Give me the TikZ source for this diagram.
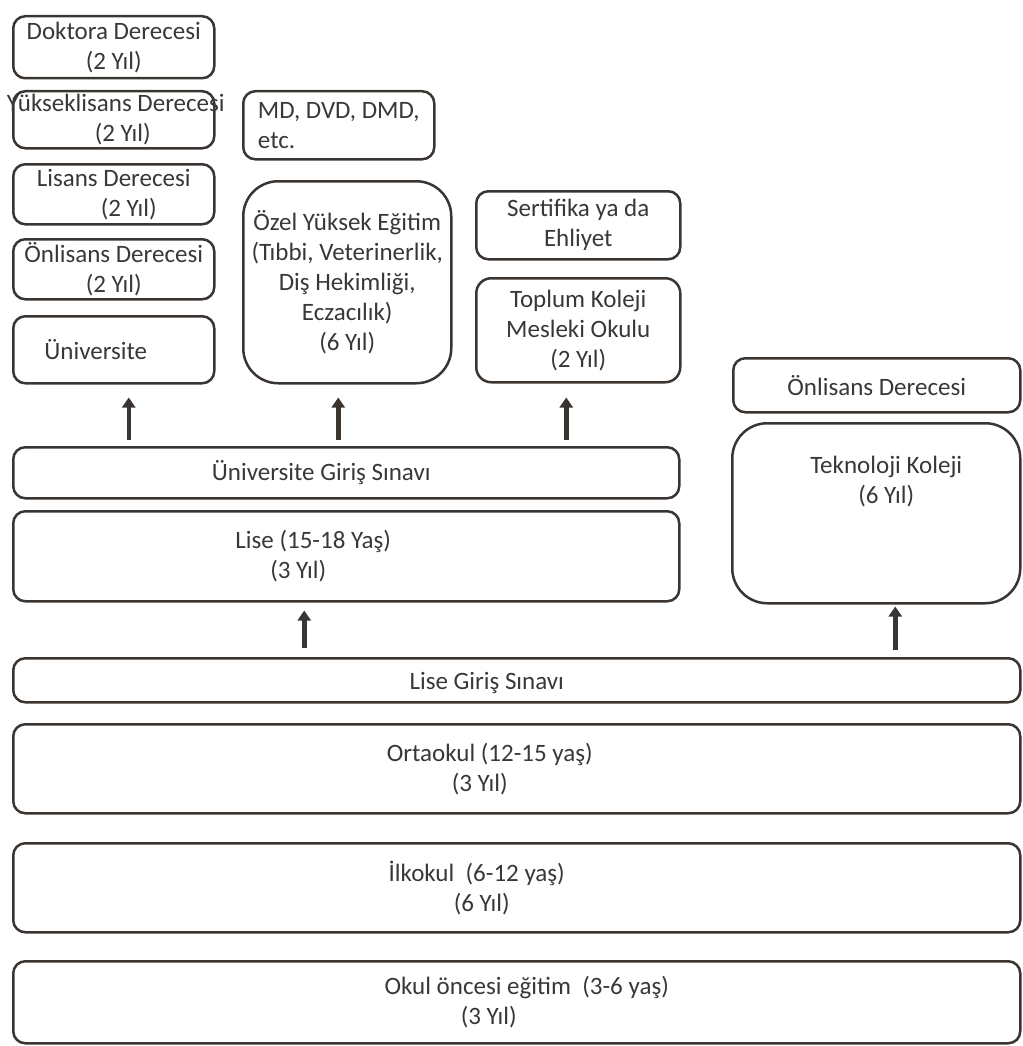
\documentclass[tikz,border=0pt]{standalone}
\usepackage{fontspec}
\setmainfont{Carlito}
\usetikzlibrary{arrows.meta}
\definecolor{edge}{HTML}{3B3532}
\definecolor{ink}{HTML}{383838}

\begin{document}
\begin{tikzpicture}[
  x=1pt, y=-1pt,
  txt/.style = {text=ink, align=center, font=\fontsize{25}{30}\selectfont},
  box/.style = {draw=edge, line width=2.5pt, rounded corners=12pt, anchor=north west, inner sep=0pt, txt},
  uparrow/.style = {line width=4.5pt, draw=edge, -{Triangle[width=13pt,length=10pt]}}
]

% Page frame
\useasboundingbox (0,0) rectangle (1022,1046);

% Left column: university degrees
\node[box, minimum width=201pt, minimum height=62pt] (doktora) at (12,15) {Doktora Derecesi\\(2 Yıl)};
\node[box, minimum width=201pt, minimum height=57pt] (yuksek) at (12,90) {};
\node[txt, xshift=2pt] (yuksek-t) at (yuksek) {Yükseklisans Derecesi\\\hspace*{14pt}(2 Yıl)};
\node[box, minimum width=201pt, minimum height=60pt] (lisans) at (12,163) {Lisans Derecesi\\\hspace*{30pt}(2 Yıl)};
\node[box, minimum width=201pt, minimum height=60pt] (onlisans) at (12,238) {Önlisans Derecesi\\(2 Yıl)};
\node[box, minimum width=201pt, minimum height=67pt] (universite) at (12,315) {};
\node[txt, xshift=-18pt] (universite-t) at (universite) {Üniversite};

% Middle column: professional degrees
\node[box, minimum width=191pt, minimum height=68pt, align=left] (md) at (242,90) {MD, DVD, DMD,\\etc.};
\node[box, rounded corners=35pt, minimum width=208pt, minimum height=202pt] (ozel) at (242,180)
  {Özel Yüksek Eğitim\\(Tıbbi, Veterinerlik,\\Diş Hekimliği,\\Eczacılık)\\(6 Yıl)};

% Vocational column
\node[box, minimum width=204pt, minimum height=68pt] (sertifika) at (475,190) {Sertifika ya da\\Ehliyet};
\node[box, rounded corners=15pt, minimum width=204pt, minimum height=104pt] (toplum) at (475,277)
  {Toplum Koleji\\Mesleki Okulu\\(2 Yıl)};

% Technology college
\node[box, minimum width=287pt, minimum height=54pt] (onlisans2) at (732,357) {Önlisans Derecesi};
\node[box, rounded corners=35pt, minimum width=288pt, minimum height=180pt] (teknoloji) at (731,422) {};
\node[txt, xshift=10pt, yshift=32pt] (teknoloji-t) at (teknoloji) {Teknoloji Koleji\\(6 Yıl)};

% High school and exams
\node[box, minimum width=666pt, minimum height=51pt] (unigiris) at (12,446) {};
\node[txt, xshift=-25pt] (unigiris-t) at (unigiris) {Üniversite Giriş Sınavı};
\node[box, minimum width=666pt, minimum height=90pt] (lise) at (12,510) {};
\node[txt, xshift=-33pt] (lise-t) at (lise) {Lise (15-18 Yaş)\\\hspace*{-30pt}(3 Yıl)};
\node[box, minimum width=1007pt, minimum height=44pt] (lisegiris) at (12,657) {};
\node[txt, xshift=-30pt, yshift=-3pt] (lisegiris-t) at (lisegiris) {Lise Giriş Sınavı};

% Compulsory and pre-school
\node[box, minimum width=1007pt, minimum height=89pt] (ortaokul) at (12,723) {};
\node[txt, xshift=-27pt] (ortaokul-t) at (ortaokul) {Ortaokul (12-15 yaş)\\\hspace*{-20pt}(3 Yıl)};
\node[box, minimum width=1007pt, minimum height=89pt] (ilkokul) at (12,842) {};
\node[txt, xshift=-40pt] (ilkokul-t) at (ilkokul) {İlkokul~~(6-12 yaş)\\\hspace*{10pt}(6 Yıl)};
\node[box, minimum width=1007pt, minimum height=82pt] (okuloncesi) at (12,960) {};
\node[txt, xshift=10pt] (okuloncesi-t) at (okuloncesi) {Okul öncesi eğitim~~(3-6 yaş)\\\hspace*{-76pt}(3 Yıl)};

% Arrows
\draw[uparrow, shorten <=6pt, shorten >=13pt] ([xshift=15pt]universite.south |- unigiris.north) -- ([xshift=15pt]universite.south);
\draw[uparrow, shorten <=6pt, shorten >=13pt] ([xshift=-9pt]ozel.south |- unigiris.north) -- ([xshift=-9pt]ozel.south);
\draw[uparrow, shorten <=6pt, shorten >=14pt] ([xshift=-12pt]toplum.south |- unigiris.north) -- ([xshift=-12pt]toplum.south);
\draw[uparrow, shorten <=9pt, shorten >=8pt] ([xshift=-42pt]lise.south |- lisegiris.north) -- ([xshift=-42pt]lise.south);
\draw[uparrow, shorten <=7pt, shorten >=2pt] ([xshift=19pt]teknoloji.south |- lisegiris.north) -- ([xshift=19pt]teknoloji.south);

\end{tikzpicture}
\end{document}
